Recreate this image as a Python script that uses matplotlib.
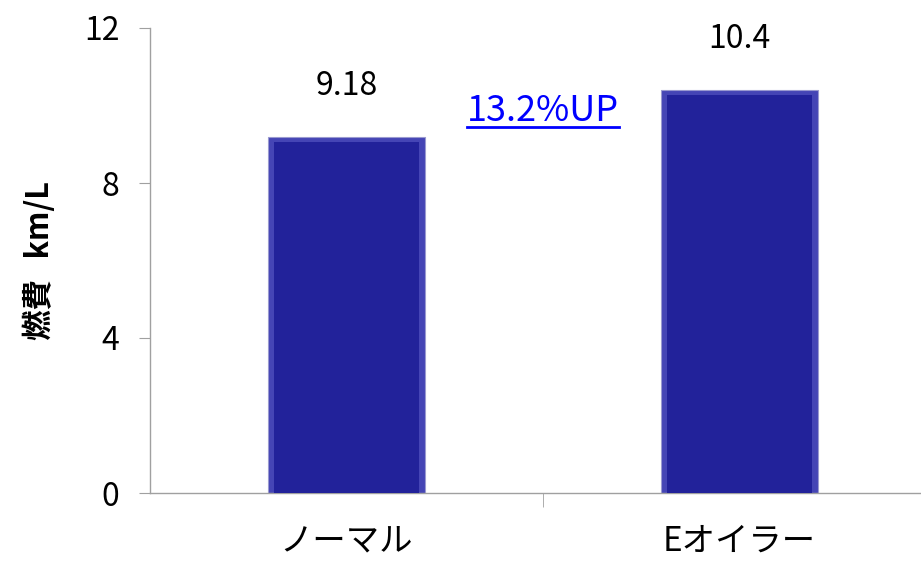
import matplotlib
matplotlib.use("Agg")
import matplotlib.pyplot as plt
import numpy as np

# データ
categories = ["ノーマル", "Eオイラー"]
values = [9.18, 10.4]
value_labels = ["9.18", "10.4"]
up_label = "13.2%UP"
y_ticks = [0, 4, 8, 12]
y_label = "燃費   km/L"

plt.rcParams['font.family'] = ['Noto Sans CJK JP', 'DejaVu Sans']

fig = plt.figure(figsize=(9.21, 5.62), dpi=100)
ax = fig.add_axes([150 / 921, 69 / 562, 786 / 921, 465 / 562])

x = np.arange(len(categories))
# 外側（ベベル風の明るい縁）
ax.bar(x, values, width=0.40, color="#4545b5", edgecolor="#9a9ad0", linewidth=0.8, zorder=2)
# 内側
ax.bar(x, np.array(values) - 0.12, width=0.37, color="#22229a", linewidth=0, zorder=3)

for xi, v, lab in zip(x, values, value_labels):
    ax.text(xi, v + 0.9, lab, ha="center", va="bottom", fontsize=23, color="black")

ax.set_xlim(-0.5, 1.5)
ax.set_ylim(0, 12)
ax.set_yticks(y_ticks)
ax.set_yticklabels([str(t) for t in y_ticks], fontsize=23)
ax.set_xticks(x)
ax.set_xticklabels(categories, fontsize=24)
ax.tick_params(axis="x", length=0, pad=22)
ax.tick_params(axis="y", length=8, color="#a0a0a0", pad=14)
ax.set_xticks([0.5], minor=True)
ax.tick_params(axis="x", which="minor", length=10, color="#a0a0a0")

for s in ["top", "right"]:
    ax.spines[s].set_visible(False)
for s in ["left", "bottom"]:
    ax.spines[s].set_color("#a0a0a0")
    ax.spines[s].set_linewidth(1.0)

ax.set_ylabel(y_label, fontsize=22, fontweight="bold", labelpad=20)

# 13.2%UP（下線付き）
t = ax.text(0.5, 9.85, up_label, ha="center", va="center", fontsize=26, color="#0000ff")
fig.canvas.draw()
bb = t.get_window_extent().transformed(fig.transFigure.inverted())
fig.add_artist(plt.Line2D([bb.x0, bb.x1], [bb.y0 + 0.004, bb.y0 + 0.004],
                          transform=fig.transFigure, color="#0000ff", linewidth=2))

fig.savefig("out.png", dpi=100)
